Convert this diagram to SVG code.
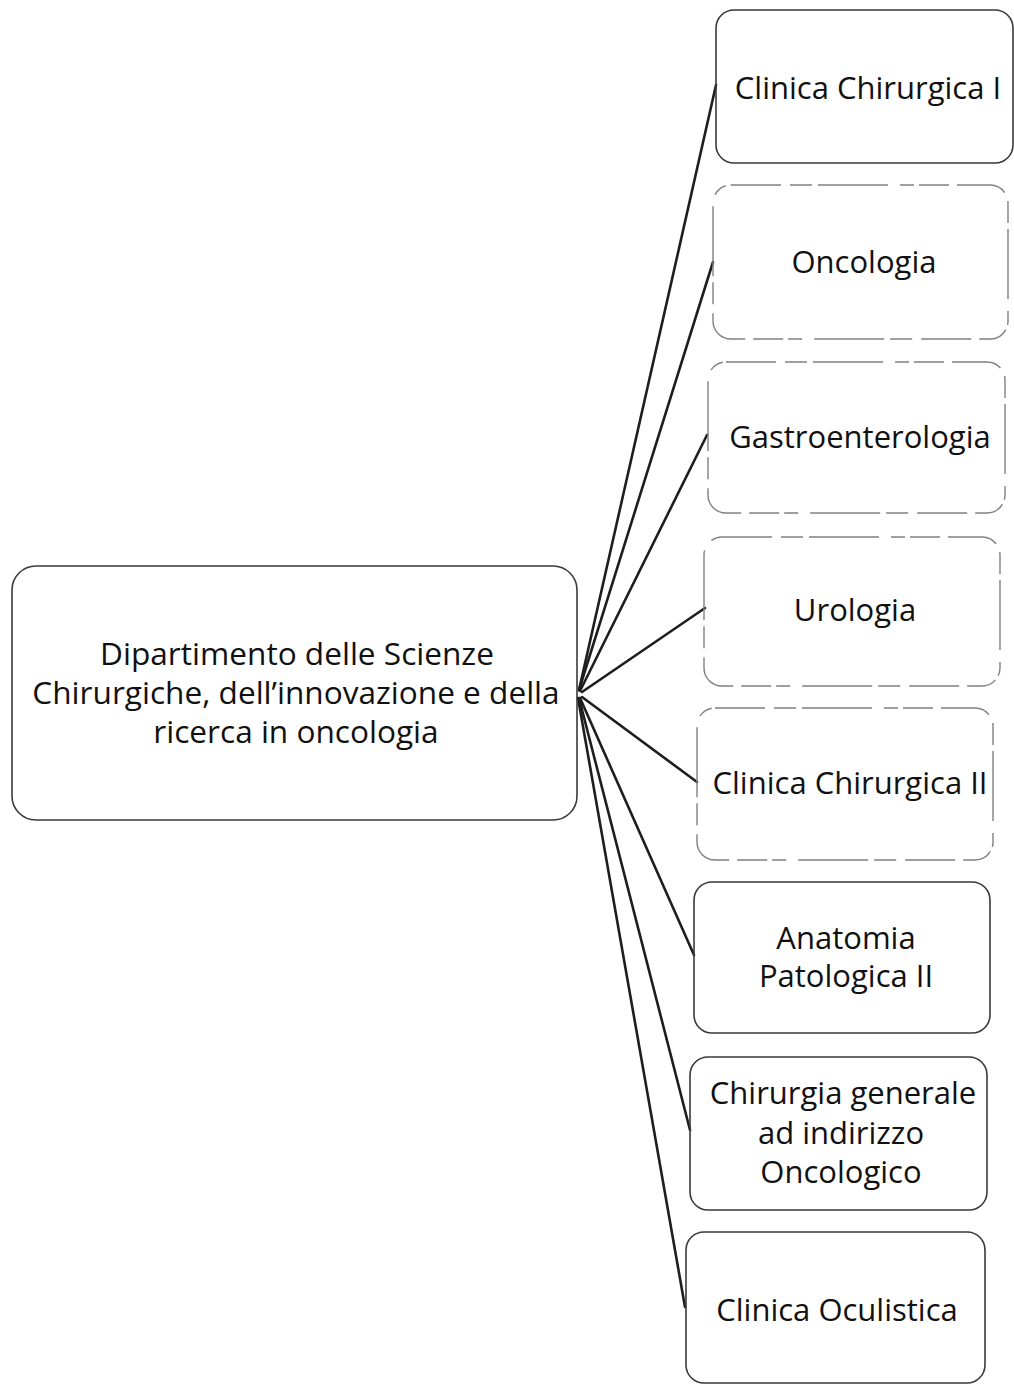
<svg xmlns="http://www.w3.org/2000/svg" width="1014" height="1386" viewBox="0 0 1014 1386">
  <style>
    .box { fill: none; stroke: #3a3a3a; stroke-width: 1.6; }
    .box.faded { stroke: #808080; stroke-width: 1.4; stroke-dasharray: 50 9 22 6 70 12 14 5 30 8; }
    .lbl { font-family: "Open Sans", "Liberation Sans", sans-serif; font-size: 31px; fill: #111; text-anchor: middle; }
    .lbl.big { font-size: 31.6px; }
    .link { stroke: #1e1e1e; stroke-width: 2.6; fill: none; stroke-linecap: round; }
  </style>
  <rect x="0" y="0" width="1014" height="1386" fill="#ffffff"/>

  <!-- spokes from the department to each unit -->
  <g id="connectors">
    <line class="link" x1="579" y1="690" x2="716" y2="85"/>
    <line class="link" x1="579" y1="690" x2="713" y2="262"/>
    <line class="link" x1="580" y1="691" x2="707" y2="435"/>
    <line class="link" x1="582" y1="692" x2="705" y2="608"/>
    <line class="link" x1="582" y1="697" x2="697" y2="782"/>
    <line class="link" x1="580" y1="698" x2="694" y2="955"/>
    <line class="link" x1="579" y1="698" x2="690" y2="1130"/>
    <line class="link" x1="578" y1="698" x2="685" y2="1307"/>
  </g>

  <g id="dipartimento">
    <rect class="box" x="12" y="566" width="565" height="254" rx="24" ry="24"/>
    <text class="lbl big" x="297" y="665">Dipartimento delle Scienze</text>
    <text class="lbl big" x="296" y="704">Chirurgiche, dell’innovazione e della</text>
    <text class="lbl big" x="296" y="743">ricerca in oncologia</text>
  </g>

  <g id="clinica-chirurgica-1">
    <rect class="box" x="716" y="10" width="297" height="153" rx="18" ry="18"/>
    <text class="lbl" x="868" y="99">Clinica Chirurgica I</text>
  </g>

  <g id="oncologia">
    <rect class="box faded" x="713" y="185" width="295" height="154" rx="18" ry="18"/>
    <text class="lbl" x="864" y="273">Oncologia</text>
  </g>

  <g id="gastroenterologia">
    <rect class="box faded" x="708" y="362" width="297" height="151" rx="18" ry="18"/>
    <text class="lbl" x="860" y="448">Gastroenterologia</text>
  </g>

  <g id="urologia">
    <rect class="box faded" x="704" y="537" width="296" height="149" rx="18" ry="18"/>
    <text class="lbl" x="855" y="621">Urologia</text>
  </g>

  <g id="clinica-chirurgica-2">
    <rect class="box faded" x="697" y="708" width="296" height="152" rx="18" ry="18"/>
    <text class="lbl" x="850" y="794">Clinica Chirurgica II</text>
  </g>

  <g id="anatomia-patologica-2">
    <rect class="box" x="694" y="882" width="296" height="151" rx="18" ry="18"/>
    <text class="lbl" x="846" y="949">Anatomia</text>
    <text class="lbl" x="846" y="987">Patologica II</text>
  </g>

  <g id="chirurgia-generale">
    <rect class="box" x="690" y="1057" width="297" height="153" rx="18" ry="18"/>
    <text class="lbl" x="843" y="1104">Chirurgia generale</text>
    <text class="lbl" x="841" y="1144">ad indirizzo</text>
    <text class="lbl" x="841" y="1183">Oncologico</text>
  </g>

  <g id="clinica-oculistica">
    <rect class="box" x="686" y="1232" width="299" height="151" rx="18" ry="18"/>
    <text class="lbl" x="837" y="1321">Clinica Oculistica</text>
  </g>
</svg>
